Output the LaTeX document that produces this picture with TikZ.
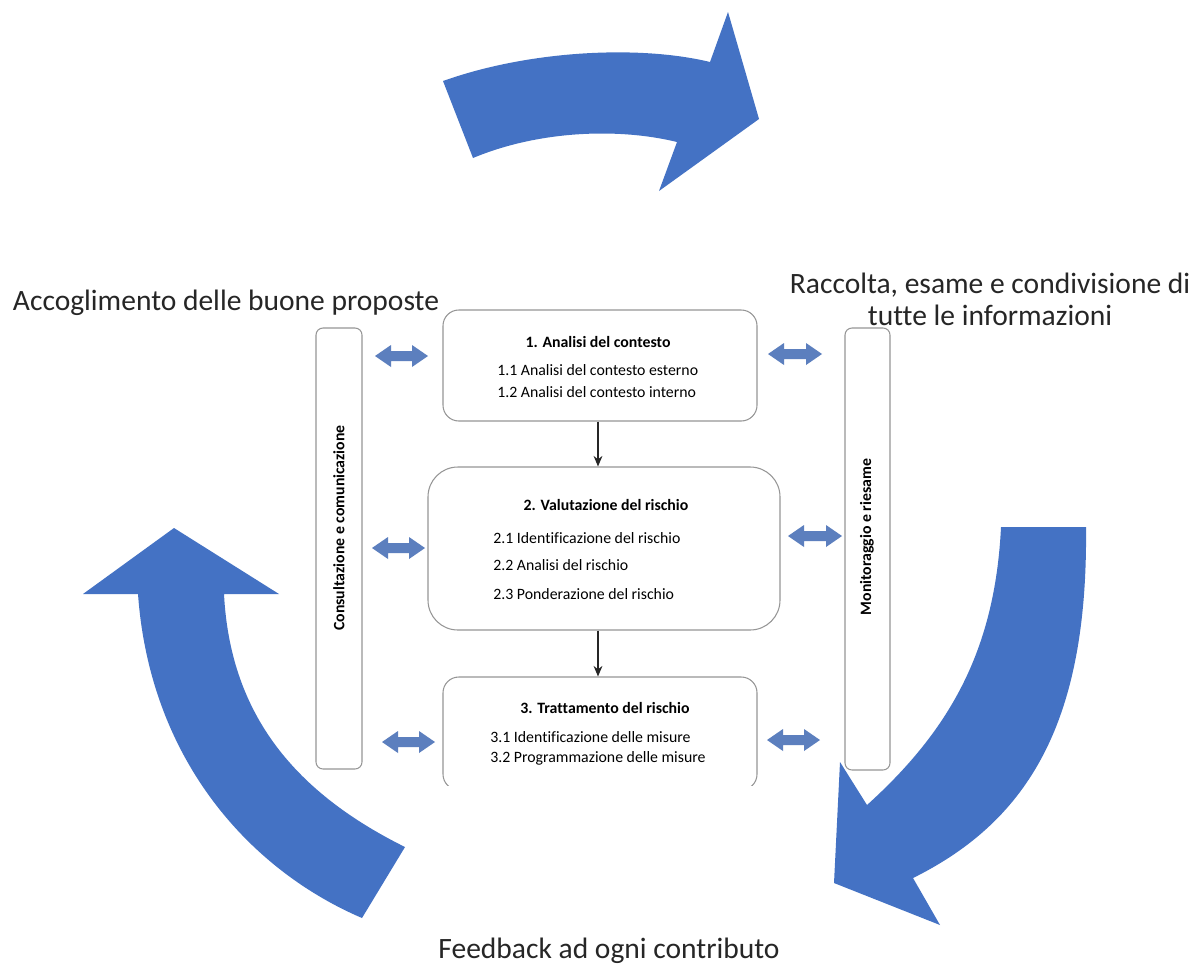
\documentclass[tikz,border=0pt]{standalone}
\usepackage{fontspec}
\setmainfont{Carlito}[Ligatures=NoCommon]
\usetikzlibrary{arrows.meta,calc}
\definecolor{bigblue}{RGB}{68,114,196}
\definecolor{dblblue}{RGB}{92,127,190}
\definecolor{boxgray}{RGB}{150,150,150}
\tikzset{
  bigarrow/.style={fill=bigblue,draw=none},
  dblarrow/.style={fill=dblblue,draw=none},
  stepbox/.style={draw=boxgray,line width=0.6pt,fill=white,inner sep=0pt},
  sidebar/.style={draw=boxgray,line width=0.6pt,rounded corners=4pt,inner sep=0pt},
  boxtitle/.style={font=\fontsize{9}{11}\selectfont\bfseries,anchor=base,inner sep=0pt},
  boxline/.style={font=\fontsize{9}{11}\selectfont,anchor=base west,inner sep=0pt},
  bartext/.style={font=\fontsize{9}{11}\selectfont\bfseries,rotate=90,inner sep=0pt},
  biglabel/.style={font=\fontsize{16.8}{17.6}\selectfont,inner sep=0pt,text=black!85},
  flowarrow/.style={draw=black!85,line width=0.8pt,-{Stealth[length=6pt,width=5pt]}}
}
\newcommand{\dblarr}[3]{%
  \fill[dblarrow] (#1,#3) -- ({#1+16},{#3-11}) -- ({#1+16},{#3-5}) -- ({#2-16},{#3-5}) -- ({#2-16},{#3-11}) -- (#2,#3) -- ({#2-16},{#3+11}) -- ({#2-16},{#3+5}) -- ({#1+16},{#3+5}) -- ({#1+16},{#3+11}) -- cycle;}
\begin{document}
\begin{tikzpicture}[x=0.02cm,y=-0.02cm]
\useasboundingbox (0,0) rectangle (1199,967);
\fill[white] (0,0) rectangle (1199,967);

% big curved arrows
\path[bigarrow] (443,81) .. controls (530,50) and (640,45) .. (710,62)
  -- (728,12) -- (759,119) -- (659,191) -- (677,142)
  .. controls (620,128) and (540,130) .. (473,158) -- cycle;
\path[bigarrow] (1001,527) -- (1086,527)
  .. controls (1088,720) and (1030,820) .. (913,878)
  -- (940,925) -- (834,883) -- (840,762) -- (867,805)
  .. controls (950,730) and (995,650) .. (1001,527) -- cycle;
\path[bigarrow] (362,918) .. controls (250,870) and (150,760) .. (138,594)
  -- (83,594) -- (174,528) -- (279,594) -- (224,594)
  .. controls (230,710) and (290,790) .. (405,847) -- cycle;

% side bars
\node[sidebar,minimum width=46*0.02cm,minimum height=441*0.02cm] (lbar) at (339,548.5) {};
\node[bartext] (ltext) at (339,528) {Consultazione e comunicazione};
\node[sidebar,minimum width=45*0.02cm,minimum height=442*0.02cm] (rbar) at (867.5,549) {};
\node[bartext] (rtext) at (867,537) {Monitoraggio e riesame};

% step boxes
\node[stepbox,rounded corners=9pt,minimum width=314*0.02cm,minimum height=111*0.02cm] (box1) at (600,365.5) {};
\node[boxtitle] (t1) at (598,347) {1. Analisi del contesto};
\node[boxline] (l11) at (497,375) {1.1 Analisi del contesto esterno};
\node[boxline] (l12) at (497,397) {1.2 Analisi del contesto interno};

\node[stepbox,rounded corners=17pt,minimum width=352*0.02cm,minimum height=163*0.02cm] (box2) at (604,548.5) {};
\node[boxtitle] (t2) at (606,510) {2. Valutazione del rischio};
\node[boxline] (l21) at (493,543) {2.1 Identificazione del rischio};
\node[boxline] (l22) at (493,570) {2.2 Analisi del rischio};
\node[boxline] (l23) at (493,599) {2.3 Ponderazione del rischio};

\begin{scope}
\clip (400,600) rectangle (800,785);
\node[stepbox,rounded corners=9pt,minimum width=314*0.02cm,minimum height=113*0.02cm] (box3) at (600,733.5) {};
\end{scope}
\node[boxtitle] (t3) at (605,713) {3. Trattamento del rischio};
\node[boxline] (l31) at (490,742) {3.1 Identificazione delle misure};
\node[boxline] (l32) at (490,762) {3.2 Programmazione delle misure};

% flow arrows
\draw[flowarrow] (box1.south -| 598,0) -- (box2.north -| 598,0);
\draw[flowarrow] (box2.south -| 598,0) -- (box3.north -| 598,0);

% double arrows
\dblarr{375}{428}{356}
\dblarr{768}{822}{354}
\dblarr{372}{425}{548}
\dblarr{788}{842}{536}
\dblarr{382}{435}{742}
\dblarr{767}{820}{740}

% labels
\node[biglabel,anchor=base] (lab1) at (226,310) {Accoglimento delle buone proposte};
\node[biglabel,anchor=base] (lab2a) at (990,293) {Raccolta, esame e condivisione di};
\node[biglabel,anchor=base] (lab2b) at (990,325) {tutte le informazioni};
\node[biglabel,anchor=base] (lab3) at (609,958) {Feedback ad ogni contributo};
\end{tikzpicture}
\end{document}
